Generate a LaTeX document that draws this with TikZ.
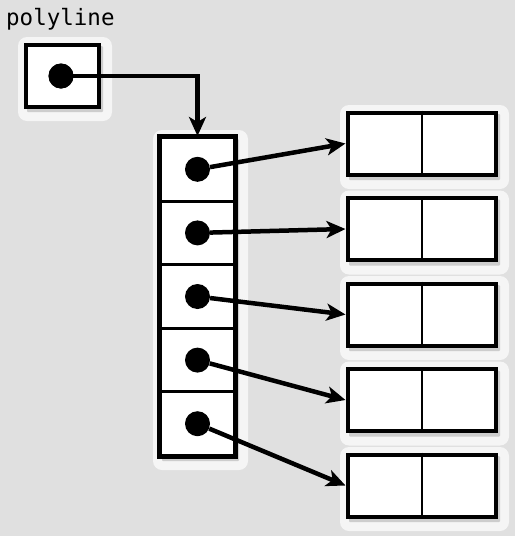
\documentclass[tikz,border=0pt]{standalone}
\usepackage{fontspec}
\newfontfamily\polymono{DejaVu Sans Mono}
\usetikzlibrary{arrows.meta}
\definecolor{bgcol}{HTML}{E0E0E0}
\definecolor{halocol}{HTML}{F5F5F5}
\definecolor{shadowcol}{HTML}{CDCDCD}
\newcommand\myhalo[4]{%
  \fill[halocol,rounded corners=9pt] (#1-6,#2-6) rectangle (#3+12,#4+13);
  \fill[shadowcol,rounded corners=1pt] (#1+3,#2+3) rectangle (#3+3,#4+4);
}
\begin{document}
\begin{tikzpicture}[x=1pt,y=-1pt,
  box/.style={draw=black,fill=white,line width=4pt,rectangle,inner sep=0pt},
  cell/.style={box,line width=3pt,minimum width=74pt,minimum height=63.6pt},
  rbox/.style={box,minimum width=148pt,minimum height=62pt},
  dot/.style={circle,fill=black,inner sep=0pt,minimum size=25pt},
  ptr/.style={line width=4.5pt,-{Stealth[length=19pt,width=17pt,inset=5pt]}}]
\fill[bgcol] (0,0) rectangle (515,536);
\useasboundingbox (0,0) rectangle (515,536);
% halos
\myhalo{24}{43}{100}{108}
\myhalo{159}{136}{236}{457}
\foreach \t in {111,196.5,282,367.5,453}{\myhalo{346}{\t}{497}{\t+65}}
% label
\node[anchor=base west,inner sep=0pt] (lbl) at (6,25) {\polymono\fontsize{22.5}{26}\selectfont polyline};
% polyline box
\node[box,minimum width=73pt,minimum height=62pt] (p) at (62,75.5) {};
\node[dot] (p0) at (61,76) {};
% column cells
\foreach \i in {1,...,5}{
  \node[cell] (c\i) at (197.5,{137.5+31.8+63.6*(\i-1)}) {};
}
\draw[line width=4pt] (c1.north west) rectangle (c5.south east);
\foreach \i in {1,...,5}{
  \node[dot] (d\i) at (c\i.center) {};
}
% right boxes
\foreach \i in {1,...,5}{
  \node[rbox] (r\i) at (421.5,{143.5+85.5*(\i-1)}) {};
  \draw[line width=2pt] (r\i.north) -- (r\i.south);
}
% connectors
\draw[ptr] (p0.center) -| (c1.north);
\node[dot] at (p0.center) {};
\foreach \i in {1,...,5}{
  \draw[ptr] (d\i) -- (r\i.west);
}
\end{tikzpicture}
\end{document}
